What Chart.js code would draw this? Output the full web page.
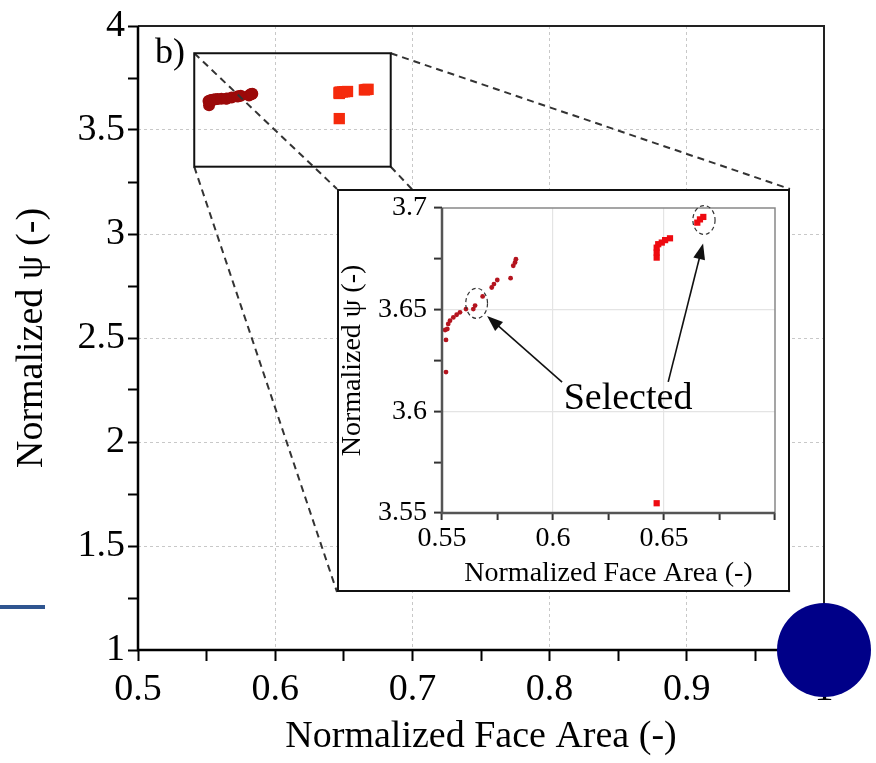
<!DOCTYPE html>
<html lang="en">
<head>
<meta charset="UTF-8">
<title>Normalized psi vs Normalized Face Area</title>
<script src="https://cdn.jsdelivr.net/npm/chart.js@4"></script>
<style>
  html, body { margin: 0; padding: 0; background: #fff; }
  #wrap { position: relative; width: 876px; height: 763px; overflow: hidden; }
  #mainChart { position: absolute; left: 0; top: 0; }
  #inset { position: absolute; left: 337px; top: 189px; width: 449px; height: 399px; border: 2px solid #111; background: #fff; }
  #insetChart { display: block; }
  #blueLine { position: absolute; left: 0; top: 605px; width: 45px; height: 4px; background: #2f5590; }
</style>
</head>
<body>
<div id="wrap">
  <canvas id="mainChart" width="876" height="763"></canvas>
  <div id="inset"><canvas id="insetChart" width="449" height="399"></canvas></div>
  <div id="blueLine"></div>
</div>
<script>
// points (both panels show the same points)
const darkX = [0.5518, 0.5518, 0.5514, 0.5524, 0.5528, 0.5536, 0.5551, 0.5566, 0.5581, 0.5608, 0.5641, 0.5649, 0.5683, 0.5724, 0.5734, 0.5749, 0.5809, 0.5821, 0.5829, 0.5833];
const darkY = [3.6193, 3.6351, 3.6400, 3.6405, 3.6430, 3.6446, 3.6462, 3.6475, 3.6487, 3.6503, 3.6503, 3.6520, 3.6565, 3.6609, 3.6626, 3.6646, 3.6655, 3.6716, 3.6732, 3.6748];
const redX = [0.6467, 0.6467, 0.6467, 0.6474, 0.6490, 0.6505, 0.6527, 0.6650, 0.6662, 0.6677, 0.6467];
const redY = [3.6756, 3.6781, 3.6805, 3.6822, 3.6830, 3.6842, 3.6851, 3.6928, 3.6944, 3.6956, 3.5548];

// main axes
const xTicksMain = [0.5, 0.55, 0.6, 0.65, 0.7, 0.75, 0.8, 0.85, 0.9, 0.95, 1];
const xLabelsMain = [0.5, 0.6, 0.7, 0.8, 0.9, 1];
const yTicksMain = [1, 1.25, 1.5, 1.75, 2, 2.25, 2.5, 2.75, 3, 3.25, 3.5, 3.75, 4];
const yLabelsMain = [1, 1.5, 2, 2.5, 3, 3.5, 4];

// inset axes
const xTicksInset = [0.55, 0.575, 0.6, 0.625, 0.65, 0.675, 0.7];
const xLabelsInset = [0.55, 0.6, 0.65];
const yTicksInset = [3.55, 3.575, 3.6, 3.625, 3.65, 3.675, 3.7];
const yLabelsInset = [3.55, 3.6, 3.65, 3.7];

// zoom window drawn on the main panel (data units)
const zoomBox = { x0: 0.541, x1: 0.6842, y0: 3.3236, y1: 3.869 };

// inset annotations (inset data units)
const selRings = [
  { x: 0.5656, y: 3.6531, rx: 0.0049, ry: 0.0074 },
  { x: 0.6680, y: 3.6941, rx: 0.0050, ry: 0.0071 }
];
const selArrows = [
  { x1: 0.6041, y1: 3.6144, x2: 0.5703, y2: 3.6469 },
  { x1: 0.6519, y1: 3.6145, x2: 0.6676, y2: 3.6826 }
];
const selLabel = { text: 'Selected', x: 0.6338, y: 3.6060 };

Chart.defaults.font.family = '"Liberation Serif", "Times New Roman", serif';
Chart.defaults.color = '#000';

const pts = (xs, ys) => xs.map((v, i) => ({ x: v, y: ys[i] }));
const setTicks = list => s => { s.ticks = list.map(v => ({ value: v })); };
const fix = (prop, size) => s => {
  s[prop] = size;
  s.paddingLeft = s.paddingRight = s.paddingTop = s.paddingBottom = 0;
};

const mainDecor = {
  id: 'mainDecor',
  afterDraw(chart) {
    const { ctx, chartArea: a, scales: { x, y } } = chart;
    ctx.save();
    // frame
    ctx.strokeStyle = '#222';
    ctx.lineWidth = 2;
    ctx.beginPath();
    ctx.moveTo(a.left, a.top); ctx.lineTo(a.right, a.top); ctx.lineTo(a.right, a.bottom);
    ctx.stroke();
    ctx.strokeStyle = '#000';
    ctx.lineWidth = 2.5;
    ctx.beginPath();
    ctx.moveTo(a.left, a.top); ctx.lineTo(a.left, a.bottom); ctx.lineTo(a.right, a.bottom);
    ctx.stroke();

    // zoom window + connectors to the inset
    const bx0 = x.getPixelForValue(zoomBox.x0), bx1 = x.getPixelForValue(zoomBox.x1);
    const by0 = y.getPixelForValue(zoomBox.y1), by1 = y.getPixelForValue(zoomBox.y0);
    const r = document.getElementById('inset').getBoundingClientRect();
    ctx.strokeStyle = '#333';
    ctx.lineWidth = 2;
    ctx.setLineDash([7, 5]);
    [[bx0, by0, r.left, r.top], [bx1, by0, r.right, r.top],
     [bx0, by1, r.left, r.bottom], [bx1, by1, r.right, r.bottom]].forEach(l => {
      ctx.beginPath(); ctx.moveTo(l[0], l[1]); ctx.lineTo(l[2], l[3]); ctx.stroke();
    });
    ctx.setLineDash([]);
    ctx.strokeStyle = '#111';
    ctx.strokeRect(bx0, by0, bx1 - bx0, by1 - by0);

    // panel letter
    ctx.fillStyle = '#000';
    ctx.font = '36px "Liberation Serif"';
    ctx.textBaseline = 'alphabetic';
    ctx.fillText('b)', a.left + 17, a.top + 37);

    // blue dot sitting on the corner
    ctx.fillStyle = '#000088';
    ctx.beginPath();
    ctx.arc(x.getPixelForValue(1), y.getPixelForValue(1), 47, 0, Math.PI * 2);
    ctx.fill();
    ctx.restore();
  }
};

function arrow(ctx, x1, y1, x2, y2) {
  const ang = Math.atan2(y2 - y1, x2 - x1), L = 16, W = 6;
  const c = Math.cos(ang), s = Math.sin(ang);
  ctx.beginPath();
  ctx.moveTo(x1, y1); ctx.lineTo(x2 - L * 0.7 * c, y2 - L * 0.7 * s);
  ctx.stroke();
  ctx.beginPath();
  ctx.moveTo(x2, y2);
  ctx.lineTo(x2 - L * c + W * s, y2 - L * s - W * c);
  ctx.lineTo(x2 - L * c - W * s, y2 - L * s + W * c);
  ctx.closePath();
  ctx.fill();
}

const insetDecor = {
  id: 'insetDecor',
  afterDraw(chart) {
    const { ctx, chartArea: a, scales: { x, y } } = chart;
    ctx.save();
    ctx.strokeStyle = '#888';
    ctx.lineWidth = 1.5;
    ctx.beginPath();
    ctx.moveTo(a.left, a.top); ctx.lineTo(a.right, a.top); ctx.lineTo(a.right, a.bottom);
    ctx.stroke();
    ctx.strokeStyle = '#555';
    ctx.lineWidth = 2.5;
    ctx.beginPath();
    ctx.moveTo(a.left, a.top); ctx.lineTo(a.left, a.bottom); ctx.lineTo(a.right, a.bottom);
    ctx.stroke();

    // dashed rings round the selected points
    ctx.strokeStyle = '#333';
    ctx.lineWidth = 1.2;
    ctx.setLineDash([4, 3]);
    selRings.forEach(e => {
      const cx = x.getPixelForValue(e.x), cy = y.getPixelForValue(e.y);
      const rx = x.getPixelForValue(e.x + e.rx) - cx, ry = cy - y.getPixelForValue(e.y + e.ry);
      ctx.beginPath(); ctx.ellipse(cx, cy, rx, ry, 0, 0, Math.PI * 2); ctx.stroke();
    });
    ctx.setLineDash([]);

    ctx.strokeStyle = '#111';
    ctx.fillStyle = '#111';
    ctx.lineWidth = 1.6;
    selArrows.forEach(p => arrow(ctx,
      x.getPixelForValue(p.x1), y.getPixelForValue(p.y1),
      x.getPixelForValue(p.x2), y.getPixelForValue(p.y2)));

    ctx.fillStyle = '#000';
    ctx.font = '38px "Liberation Serif"';
    ctx.textAlign = 'center';
    ctx.textBaseline = 'middle';
    ctx.fillText(selLabel.text, x.getPixelForValue(selLabel.x), y.getPixelForValue(selLabel.y));
    ctx.restore();
  }
};

new Chart(document.getElementById('mainChart'), {
  type: 'scatter',
  data: {
    datasets: [
      { data: pts(darkX, darkY), pointStyle: 'circle', pointRadius: 6,
        pointBackgroundColor: '#9c0a0a', pointBorderColor: '#9c0a0a', pointBorderWidth: 0 },
      { data: pts(redX, redY), pointStyle: 'rect', pointRadius: 8,
        pointBackgroundColor: '#f52a0c', pointBorderColor: '#f52a0c', pointBorderWidth: 0 }
    ]
  },
  options: {
    responsive: false,
    animation: false,
    events: [],
    layout: { padding: { left: 0, top: 26, right: 52, bottom: 0 } },
    plugins: { legend: { display: false }, tooltip: { enabled: false } },
    scales: {
      x: {
        type: 'linear', min: 0.5, max: 1,
        afterBuildTicks: setTicks(xTicksMain),
        afterFit: fix('height', 113),
        grid: {
          color: c => (xLabelsMain.includes(c.tick.value) && c.tick.value > 0.5 && c.tick.value < 1) ? '#c8c8c8' : 'rgba(0,0,0,0)',
          lineWidth: 1, tickColor: '#000', tickWidth: 2, tickLength: 11
        },
        border: { display: false, dash: [3, 3] },
        ticks: {
          autoSkip: false, maxRotation: 0, minRotation: 0, padding: 6,
          font: { size: 38 },
          callback: v => xLabelsMain.includes(v) ? String(v) : ''
        },
        title: { display: true, text: 'Normalized Face Area (-)', font: { size: 38 }, padding: { top: 0, bottom: 3 } }
      },
      y: {
        type: 'linear', min: 1, max: 4,
        afterBuildTicks: setTicks(yTicksMain),
        afterFit: fix('width', 138),
        grid: {
          color: c => (yLabelsMain.includes(c.tick.value) && c.tick.value > 1 && c.tick.value < 4) ? '#c8c8c8' : 'rgba(0,0,0,0)',
          lineWidth: 1, tickColor: '#000', tickWidth: 2, tickLength: 10
        },
        border: { display: false, dash: [3, 3] },
        ticks: {
          autoSkip: false, padding: 3,
          font: { size: 38 },
          callback: v => yLabelsMain.includes(v) ? String(v) : ''
        },
        title: { display: true, text: 'Normalized ψ (-)', font: { size: 38 }, padding: { top: 9, bottom: 0 } }
      }
    }
  },
  plugins: [mainDecor]
});

new Chart(document.getElementById('insetChart'), {
  type: 'scatter',
  data: {
    datasets: [
      { data: pts(darkX, darkY), pointStyle: 'circle', pointRadius: 2.4,
        pointBackgroundColor: '#b4141e', pointBorderColor: '#b4141e', pointBorderWidth: 0 },
      { data: pts(redX, redY), pointStyle: 'rect', pointRadius: 4.4,
        pointBackgroundColor: '#ee0a10', pointBorderColor: '#ee0a10', pointBorderWidth: 0 }
    ]
  },
  options: {
    responsive: false,
    animation: false,
    events: [],
    layout: { padding: { left: 0, top: 17, right: 13, bottom: 0 } },
    plugins: { legend: { display: false }, tooltip: { enabled: false } },
    scales: {
      x: {
        type: 'linear', min: 0.55, max: 0.7,
        afterBuildTicks: setTicks(xTicksInset),
        afterFit: fix('height', 77),
        grid: {
          color: c => (xLabelsInset.includes(c.tick.value) && c.tick.value > 0.55) ? '#e4e4e4' : 'rgba(0,0,0,0)',
          lineWidth: 1.2, tickColor: '#333', tickWidth: 2, tickLength: 7
        },
        border: { display: false },
        ticks: {
          autoSkip: false, maxRotation: 0, minRotation: 0, padding: 2,
          font: { size: 28 },
          callback: v => xLabelsInset.includes(v) ? String(v) : ''
        },
        title: { display: true, text: 'Normalized Face Area (-)', font: { size: 28 }, padding: { top: 0, bottom: 0 } }
      },
      y: {
        type: 'linear', min: 3.55, max: 3.7,
        afterBuildTicks: setTicks(yTicksInset),
        afterFit: fix('width', 103),
        grid: {
          color: c => (yLabelsInset.includes(c.tick.value) && c.tick.value > 3.55 && c.tick.value < 3.7) ? '#e4e4e4' : 'rgba(0,0,0,0)',
          lineWidth: 1.2, tickColor: '#333', tickWidth: 2, tickLength: 8
        },
        border: { display: false },
        ticks: {
          autoSkip: false, padding: 7,
          font: { size: 28 },
          callback: v => yLabelsInset.includes(v) ? String(v) : ''
        },
        title: { display: true, text: 'Normalized ψ (-)', font: { size: 28, lineHeight: 1 }, padding: { top: 0, bottom: 0 } }
      }
    }
  },
  plugins: [insetDecor]
});
</script>
</body>
</html>
